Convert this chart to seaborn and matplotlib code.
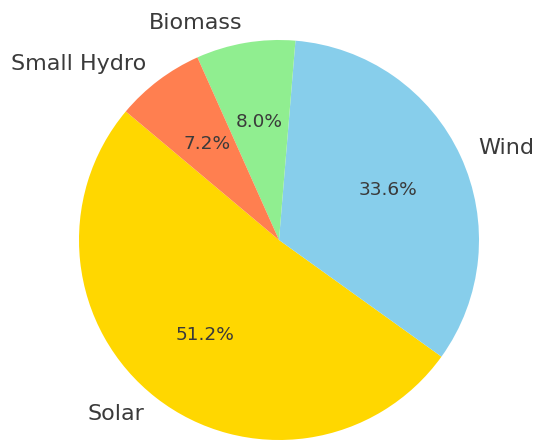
import matplotlib
matplotlib.use("Agg")
import matplotlib.pyplot as plt
import seaborn as sns

sns.set_theme(style="white")
plt.rcParams['font.family'] = ['DejaVu Sans']

labels = ["Solar", "Wind", "Biomass", "Small Hydro"]
capacity = [64, 42, 10, 9]
colors = ["gold", "skyblue", "lightgreen", "coral"]

W, H = 535, 440
fig = plt.figure(figsize=(W / 100, H / 100), dpi=100)
R = 200
cx, cy = 279, 200  # center in figure pixels from bottom-left
ax = fig.add_axes([(cx - R) / W, (cy - R) / H, 2 * R / W, 2 * R / H])
wedges, texts, autotexts = ax.pie(
    capacity, labels=labels, colors=colors, autopct="%1.1f%%",
    startangle=140, labeldistance=1.1, pctdistance=0.6,
    wedgeprops={"linewidth": 0, "edgecolor": "none"},
    textprops={"color": "#3a3a3a"})
for t in texts:
    t.set_fontsize(16)
for t in autotexts:
    t.set_fontsize(13.3)
ax.set_xlim(-1, 1)
ax.set_ylim(-1, 1)
ax.set_aspect("equal")
ax.axis("off")
fig.savefig("out.png", dpi=100, facecolor="white")
